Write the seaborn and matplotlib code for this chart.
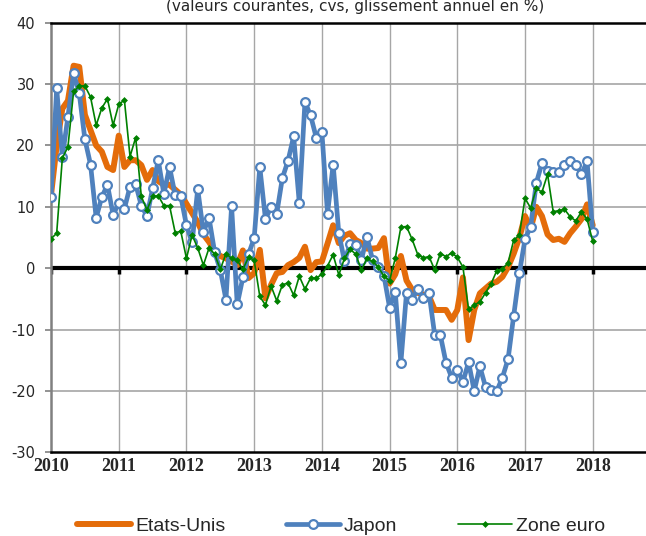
# croissance annuelle en % : Etats-Unis, Japon, Zone euro (mensuel, 2010-2018)
import numpy as np
import pandas as pd
import seaborn as sns
import matplotlib.pyplot as plt
from matplotlib.transforms import ScaledTranslation

# data, monthly from Jan 2010 to Jan 2018
etats_unis = [12.0, 20.0, 26.0, 27.3, 33.0, 32.8, 25.0, 22.5, 20.0, 19.0, 16.5, 16.0,
              21.6, 16.5, 17.6, 17.6, 16.8, 14.4, 16.0, 14.2, 13.6, 13.6, 12.8, 12.0,
              10.5, 9.0, 7.5, 5.5, 4.3, 2.8, 2.0, 1.6, 1.1, 0.5, 2.9, -1.6,
              -0.8, 3.0, -4.9, -2.7, -0.8, -0.6, 0.5, 1.0, 1.7, 3.5, -0.3, 1.0,
              1.1, 4.0, 7.0, 4.1, 5.3, 5.7, 4.6, 4.1, 3.2, 3.2, 3.3, 4.9,
              -2.5, -1.0, 2.0, -2.0, -3.5, -4.0, -4.3, -4.6, -6.8, -6.8, -6.8, -8.4,
              -6.8, -1.5, -11.7, -6.8, -4.1, -3.3, -2.5, -2.2, -1.4, 0.2, 2.4, 5.0,
              8.5, 6.5, 10.0, 8.5, 5.5, 4.6, 4.8, 4.3, 5.7, 6.8, 8.0, 10.4,
              7.0]
japon = [11.6, 29.3, 18.1, 24.7, 31.8, 28.5, 21.0, 16.9, 8.2, 11.6, 13.6, 8.7,
         10.6, 9.7, 13.3, 13.7, 10.2, 8.5, 13.0, 17.6, 12.1, 16.5, 11.9, 11.7,
         7.0, 4.2, 12.9, 5.9, 8.2, 2.6, -0.3, -5.1, 10.1, -5.9, -1.5, 2.3,
         4.9, 16.5, 8.0, 10.0, 8.9, 14.7, 17.5, 21.5, 10.6, 27.1, 24.9, 21.3,
         22.2, 8.9, 16.9, 5.7, 1.2, 3.9, 3.8, 1.4, 5.1, 1.3, 0.2, -1.2,
         -6.4, -3.8, -15.4, -4.0, -5.1, -3.4, -4.8, -4.1, -10.9, -10.9, -15.4, -17.8,
         -16.5, -18.5, -15.3, -20.0, -16.0, -19.3, -19.8, -20.0, -17.8, -14.8, -7.7, -0.8,
         4.7, 6.8, 13.9, 17.1, 15.8, 15.6, 15.6, 16.8, 17.5, 16.9, 15.3, 17.4,
         5.9]
zone_euro = [4.8, 5.7, 17.9, 19.8, 28.8, 29.7, 29.7, 27.9, 23.3, 26.1, 27.6, 23.3,
             26.7, 27.4, 18.2, 21.3, 11.7, 9.5, 11.7, 11.8, 10.2, 10.2, 5.8, 6.0,
             1.6, 5.4, 3.3, 0.5, 3.3, 2.3, -0.2, 2.4, 1.6, 1.3, -0.2, 1.8,
             1.3, -4.6, -6.0, -2.9, -5.3, -2.7, -2.4, -4.4, -1.3, -3.4, -1.6, -1.6,
             -1.0, 0.4, 2.2, -1.1, 1.6, 3.1, 2.3, -0.3, 1.6, 1.1, 0.2, -1.3,
             -2.0, 1.6, 6.7, 6.8, 4.7, 2.2, 1.7, 1.9, -0.3, 2.4, 1.9, 2.5,
             1.8, 0.2, -6.7, -6.0, -5.5, -4.0, -2.5, -0.4, -0.1, 0.9, 4.6, 5.4,
             11.4, 9.8, 13.0, 12.4, 15.3, 9.2, 9.4, 9.6, 8.4, 7.7, 9.2, 8.0,
             4.4]
annees = list(range(2010, 2019))

mois = 2010 + np.arange(len(japon)) / 12
df = pd.DataFrame({"t": mois, "Etats-Unis": etats_unis, "Japon": japon, "Zone euro": zone_euro})

sns.set_style("white")
plt.rcParams["axes.unicode_minus"] = False
fig = plt.figure(figsize=(6.46, 5.36), dpi=100)
ax = fig.add_axes([0.079, 0.156, 0.921, 0.8016])

# grid
for y in range(-30, 41, 10):
    if y not in (0, 40, -30):
        ax.axhline(y, color="#a6a6a6", lw=1.2, zorder=0)
for a in annees[1:]:
    ax.axvline(a, color="#a6a6a6", lw=1.0, zorder=0)

# series
sns.lineplot(data=df, x="t", y="Etats-Unis", ax=ax, color="#e46c0a", lw=4.3,
             label="Etats-Unis", zorder=3)
sns.lineplot(data=df, x="t", y="Japon", ax=ax, color="#4f81bd", lw=3.4,
             marker="o", markersize=6.3, markerfacecolor="white",
             markeredgecolor="#4f81bd", markeredgewidth=1.6, label="Japon", zorder=4)
sns.lineplot(data=df, x="t", y="Zone euro", ax=ax, color="#008000", lw=1.2,
             marker="D", markersize=3.5, markeredgewidth=0, label="Zone euro", zorder=5)

# zero line with year ticks
ax.axhline(0, color="black", lw=3, zorder=2)
ax.vlines(annees, -0.9, 0, color="black", lw=2.5, zorder=2)

ax.set_xlim(2010, 2018.787)
ax.set_ylim(-30, 40)
ax.set_yticks(range(-30, 41, 10))
ax.set_xticks(annees)
ax.set_xticklabels([str(a) for a in annees], fontfamily="Liberation Serif",
                   fontweight="bold", fontsize=13)
for lab in ax.get_xticklabels():
    lab.set_transform(lab.get_transform() + ScaledTranslation(0.095, 0, fig.dpi_scale_trans))
ax.tick_params(axis="x", length=0, pad=4)
ax.tick_params(axis="y", length=4.5, width=1.2, color="#808080", pad=7,
               labelsize=10.5, left=True)
ax.set_xlabel("")
ax.set_ylabel("")

for s in ["top", "bottom"]:
    ax.spines[s].set_color("black")
    ax.spines[s].set_linewidth(1.8)
ax.spines["left"].set_color("#808080")
ax.spines["left"].set_linewidth(1.8)
ax.spines["right"].set_visible(False)

fig.text(355 / 646, 1 - 11 / 536, "(valeurs courantes, cvs, glissement annuel en %)",
         ha="center", va="baseline", fontsize=11)

handles, labels = ax.get_legend_handles_labels()
ax.get_legend().remove()
fig.legend(handles, labels, loc="center", bbox_to_anchor=(0.528, 0.018), ncol=3,
           frameon=False, handlelength=2.8, handletextpad=0.2, columnspacing=3.1,
           borderpad=0, prop={"family": "Liberation Sans", "size": 14})

plt.savefig("out.png", dpi=100)
